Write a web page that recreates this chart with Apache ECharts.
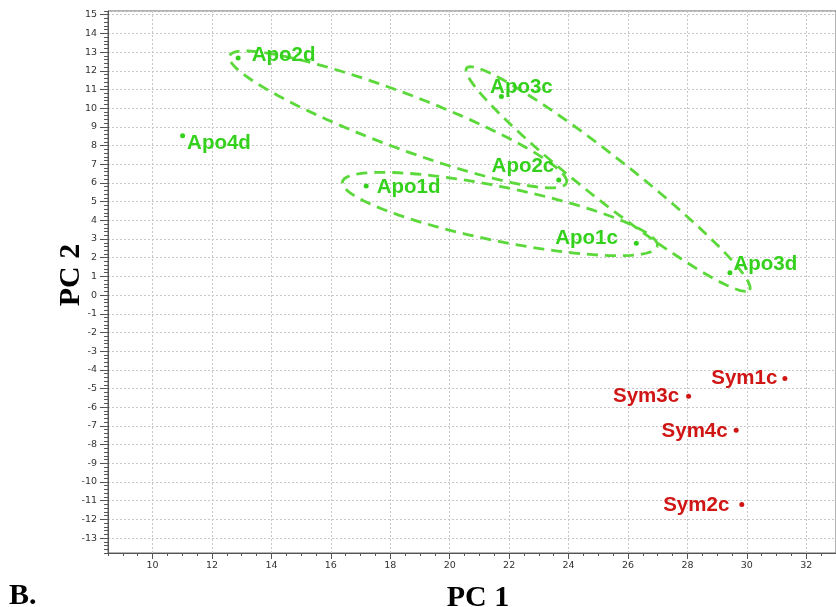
<!DOCTYPE html>
<html>
<head>
<meta charset="utf-8">
<script src="https://cdn.jsdelivr.net/npm/echarts@6/dist/echarts.min.js"></script>
<style>
  html, body { margin: 0; padding: 0; background: #fff; }
  #chart { width: 836px; height: 607px; }
</style>
</head>
<body>
<div id="chart"></div>
<script>
// samples
const apoNames = ['Apo2d', 'Apo3c', 'Apo4d', 'Apo2c', 'Apo1d', 'Apo1c', 'Apo3d'];
const apoPC1 = [12.88, 21.74, 11.01, 23.67, 17.19, 26.28, 29.43];
const apoPC2 = [12.68, 10.62, 8.52, 6.16, 5.84, 2.77, 1.19];

const symNames = ['Sym1c', 'Sym3c', 'Sym4c', 'Sym2c'];
const symPC1 = [31.28, 28.04, 29.64, 29.83];
const symPC2 = [-4.46, -5.41, -7.23, -11.21];

// dashed ellipses: centre, end of long axis, end of short axis (PC1, PC2)
const ellipseCenter = [[18.26, 9.40], [25.33, 6.21], [21.69, 4.34]];
const ellipseTip = [[23.93, 6.00], [30.09, 0.27], [26.99, 2.62]];
const ellipseSide = [[18.58, 10.76], [25.78, 7.14], [21.87, 5.76]];

const xMin = 8.5, xMax = 33;
const yMin = -13.8, yMax = 15.2;

// label placement per point
const labelLayout = {
  Apo2d: { position: 'right', offset: [5, -3] },
  Apo3c: { position: 'top', offset: [20, 10] },
  Apo4d: { position: 'right', offset: [-4, 7] },
  Apo2c: { position: 'left', offset: [4, -14] },
  Apo1d: { position: 'right', offset: [2, 1] },
  Apo1c: { position: 'left', offset: [-10, -5] },
  Apo3d: { position: 'right', offset: [-5, -8] },
  Sym1c: { position: 'left', offset: [1, 0] },
  Sym3c: { position: 'left', offset: [-1, 0] },
  Sym4c: { position: 'left', offset: [0, 1] },
  Sym2c: { position: 'left', offset: [-4, 1] }
};

const GREEN = '#34d11c';
const DASH_GREEN = '#5bd83a';
const RED = '#d01515';

const toPoints = (names, xs, ys) => names.map((n, i) => ({
  name: n,
  value: [xs[i], ys[i]],
  label: labelLayout[n]
}));

const ellipseData = ellipseCenter.map((c, i) => [
  c[0], c[1], ellipseTip[i][0], ellipseTip[i][1], ellipseSide[i][0], ellipseSide[i][1]
]);

const chart = echarts.init(document.getElementById('chart'));

const tickLabel = { color: '#333', fontSize: 9.5, fontFamily: 'DejaVu Sans' };
const lineStyle = { color: '#555', width: 1 };

const option = {
  animation: false,
  backgroundColor: '#fff',
  title: {
    text: 'B.',
    left: 4,
    top: 576,
    textStyle: { fontFamily: 'Liberation Serif', fontWeight: 'bold', fontSize: 30, color: '#000' }
  },
  grid: {
    left: 108, right: 0, top: 11, bottom: 54,
    outerBoundsMode: 'none', containLabel: false,
    show: true, borderColor: '#666', borderWidth: 1, backgroundColor: '#fff'
  },
  xAxis: [
    {
      // small ticks every 0.5
      type: 'value', min: xMin, max: xMax, interval: 0.5, position: 'bottom',
      axisLine: { show: true, onZero: false, lineStyle: lineStyle },
      axisTick: { show: true, length: 3, lineStyle: lineStyle },
      axisLabel: { show: false },
      splitLine: { show: false },
      name: 'PC 1', nameLocation: 'middle', nameGap: 30,
      nameTextStyle: {
        fontFamily: 'Liberation Serif', fontWeight: 'bold', fontSize: 30, color: '#000',
        padding: [0, 0, 0, 12]
      }
    },
    {
      // labelled ticks every 2
      type: 'value', min: xMin, max: xMax, splitNumber: 12, position: 'bottom',
      axisLine: { show: false, onZero: false },
      axisTick: { show: true, length: 6, lineStyle: lineStyle },
      axisLabel: Object.assign({ margin: 8, showMinLabel: false, showMaxLabel: false }, tickLabel),
      splitLine: { show: true, lineStyle: { color: '#c8c8c8', type: [2, 2], width: 1 } }
    }
  ],
  yAxis: [
    {
      type: 'value', min: yMin, max: yMax, interval: 0.2, position: 'left',
      axisLine: { show: true, onZero: false, lineStyle: lineStyle },
      axisTick: { show: true, length: 4, lineStyle: lineStyle },
      axisLabel: { show: false },
      splitLine: { show: false },
      name: 'PC 2', nameLocation: 'middle', nameGap: 22, nameRotate: 90,
      nameTextStyle: {
        fontFamily: 'Liberation Serif', fontWeight: 'bold', fontSize: 30, color: '#000',
        padding: [0, 0, 0, 14]
      }
    },
    {
      type: 'value', min: yMin, max: yMax, splitNumber: 29, position: 'left',
      axisLine: { show: false, onZero: false },
      axisTick: { show: true, length: 8, lineStyle: lineStyle },
      axisLabel: Object.assign({ margin: 11, showMinLabel: false, showMaxLabel: false }, tickLabel),
      splitLine: { show: true, lineStyle: { color: '#c8c8c8', type: [2, 2], width: 1 } }
    }
  ],
  series: [
    {
      type: 'custom',
      name: 'ellipses',
      xAxisIndex: 0, yAxisIndex: 0,
      data: ellipseData,
      silent: true,
      renderItem: function (params, api) {
        const c = api.coord([api.value(0), api.value(1)]);
        const t = api.coord([api.value(2), api.value(3)]);
        const s = api.coord([api.value(4), api.value(5)]);
        const pts = [];
        for (let k = 0; k <= 90; k++) {
          const a = k / 90 * Math.PI * 2;
          pts.push([
            c[0] + (t[0] - c[0]) * Math.cos(a) + (s[0] - c[0]) * Math.sin(a),
            c[1] + (t[1] - c[1]) * Math.cos(a) + (s[1] - c[1]) * Math.sin(a)
          ]);
        }
        return {
          type: 'polyline',
          shape: { points: pts },
          style: { fill: null, stroke: DASH_GREEN, lineWidth: 2.8, lineDash: [11, 7] }
        };
      }
    },
    {
      type: 'scatter',
      name: 'Apo',
      xAxisIndex: 0, yAxisIndex: 0,
      symbolSize: 5,
      itemStyle: { color: GREEN, opacity: 1 },
      label: {
        show: true, formatter: '{b}', distance: 6,
        color: GREEN, fontSize: 20.5, fontWeight: 'bold', fontFamily: 'Liberation Sans'
      },
      data: toPoints(apoNames, apoPC1, apoPC2)
    },
    {
      type: 'scatter',
      name: 'Sym',
      xAxisIndex: 0, yAxisIndex: 0,
      symbolSize: 5,
      itemStyle: { color: RED, opacity: 1 },
      label: {
        show: true, formatter: '{b}', distance: 6,
        color: RED, fontSize: 20.5, fontWeight: 'bold', fontFamily: 'Liberation Sans'
      },
      data: toPoints(symNames, symPC1, symPC2)
    }
  ]
};

chart.setOption(option);
</script>
</body>
</html>
